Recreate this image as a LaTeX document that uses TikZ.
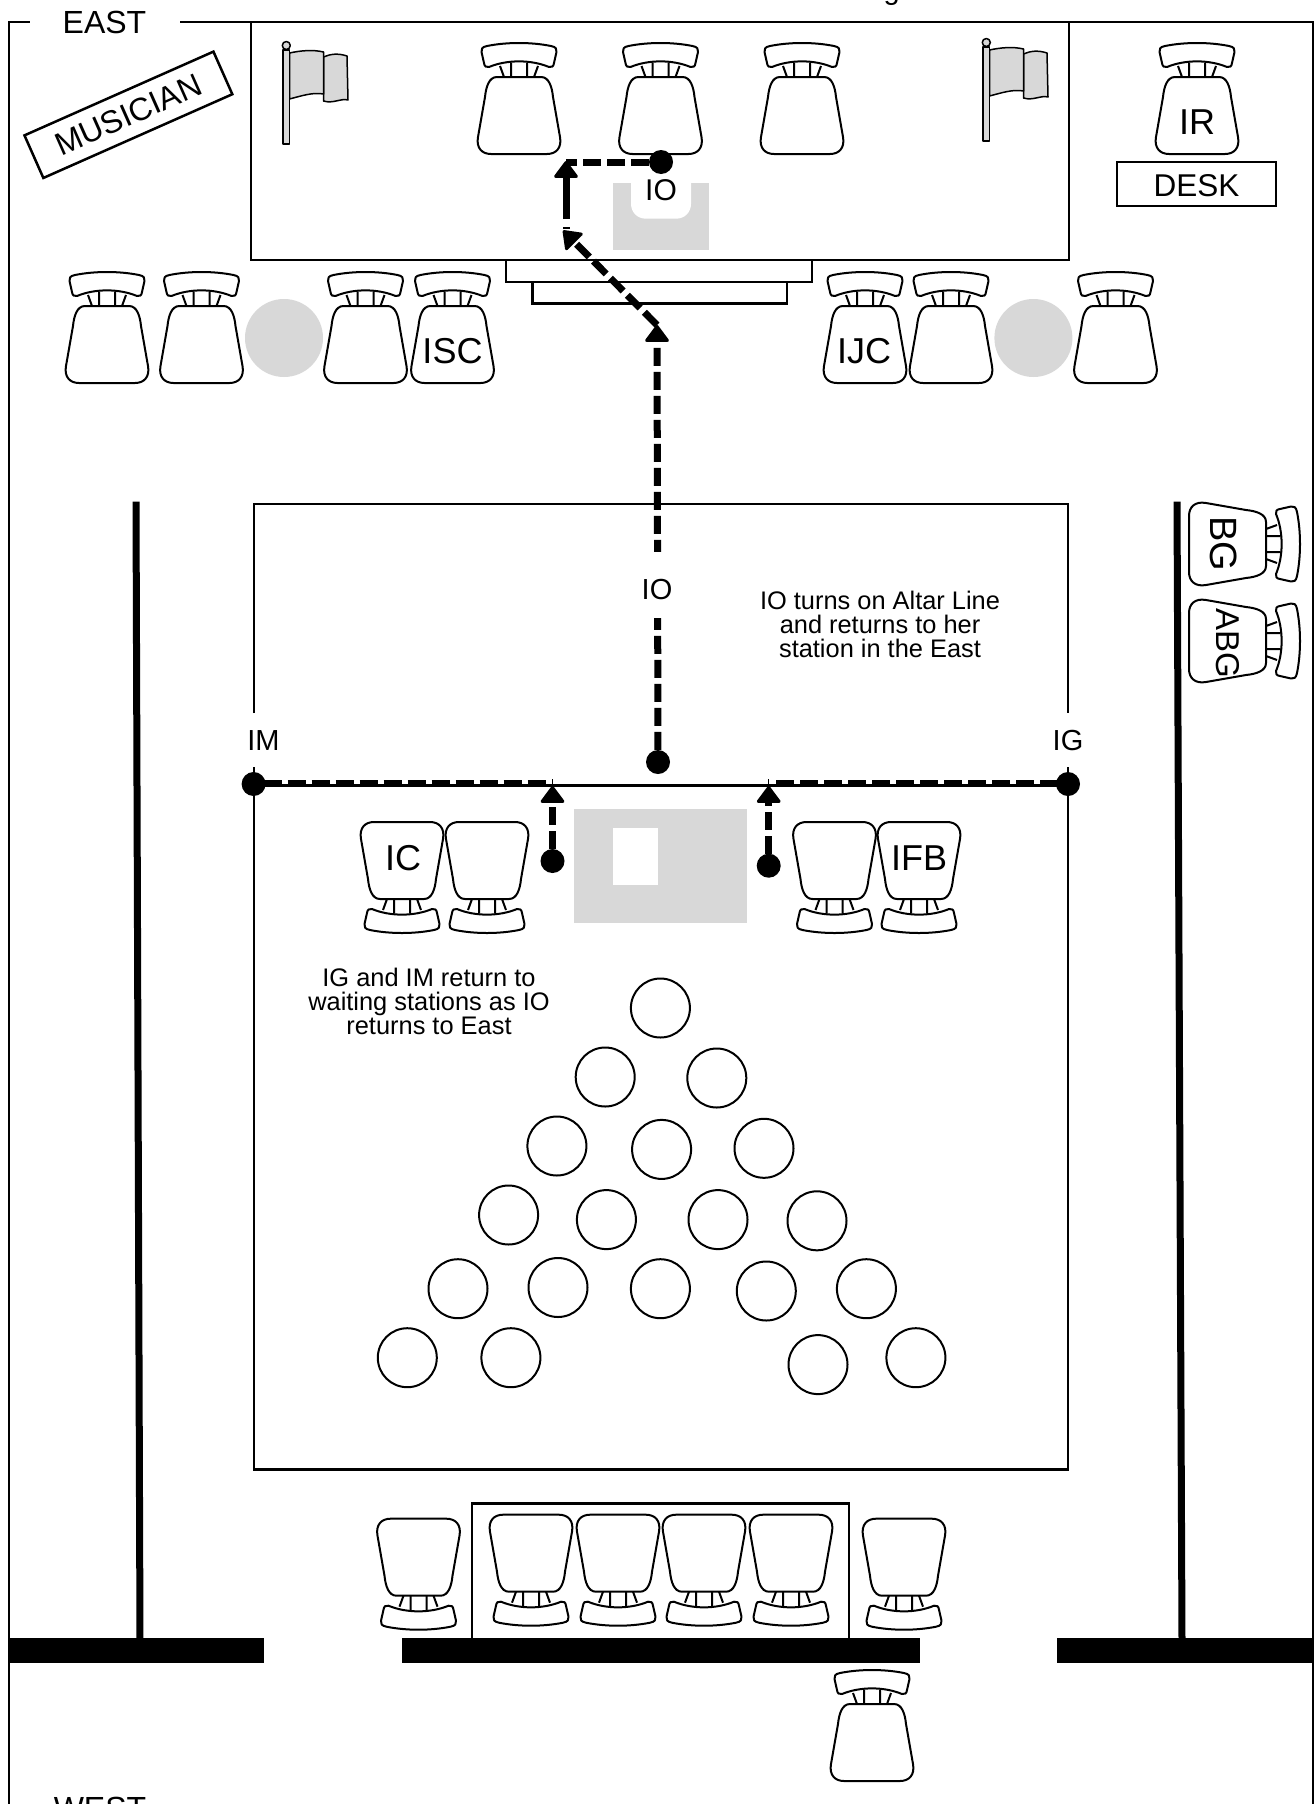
\documentclass[tikz,border=0pt]{standalone}
\usepackage{fontspec}
\setmainfont{Liberation Sans}
\usetikzlibrary{arrows.meta}
\definecolor{pale}{HTML}{D8D8D8}
\newcommand{\fsz}[1]{\fontsize{#1}{#1}\selectfont}
\tikzset{
  seatpic/.pic={
    \begin{scope}[line width=2pt,draw=black,fill=white,line join=round]
    \filldraw (-32,4) .. controls (-12,0) and (12,0) .. (32,4) .. controls (37,5) and (38,7) .. (37.5,10) -- (35,21)
      .. controls (34.5,24.5) and (33,25.5) .. (30,25) .. controls (12,17.5) and (-12,17.5) .. (-30,25)
      .. controls (-33,25.5) and (-34.5,24.5) .. (-35,21) -- (-37.5,10) .. controls (-38,7) and (-37,5) .. (-32,4) -- cycle;
    \draw (-19,24) -- (-15,35) (-8,20.5) -- (-8,35) (8,20.5) -- (8,35) (19,24) -- (15,35);
    \filldraw (-22,35) -- (22,35) .. controls (30,35) and (33,45) .. (34,55) -- (41,95)
      .. controls (43,106) and (37,112) .. (28,112) -- (-28,112) .. controls (-37,112) and (-43,106) .. (-41,95)
      -- (-34,55) .. controls (-33,45) and (-30,35) .. (-22,35) -- cycle;
    \end{scope}
  },
  flagpic/.pic={
    \begin{scope}[line width=1.5pt,draw=black,fill=pale,line join=round]
    \filldraw (40.5,16) .. controls (47,13) and (55,12) .. (64,15) -- (65,59) .. controls (58,57) and (50,63) .. (40.5,60) -- cycle;
    \filldraw (6.5,12) .. controls (18,9.5) and (30,8.5) .. (40.5,11) -- (40.5,53) .. controls (30,51) and (18,55) .. (6.5,58) -- cycle;
    \filldraw (0,9) rectangle (6.5,103);
    \filldraw (3.3,4.5) circle[radius=4];
    \end{scope}
  },
  frameline/.style={line width=2.5pt,draw=black},
  spot/.style={circle,fill=black,inner sep=0pt,minimum size=24pt},
  crowd/.style={circle,draw=black,fill=white,line width=2pt,inner sep=0pt,minimum size=59pt},
  grayspot/.style={circle,fill=pale,inner sep=0pt,minimum size=78pt},
  route/.style={line width=7pt,draw=black,dash pattern=on 18pt off 6pt},
  routetip/.style={route,-{Triangle[width=26pt,length=18pt,line width=3pt,round]}},
  chairlbl/.style={anchor=base,font=\fsz{36}},
  smalllbl/.style={anchor=base,font=\fsz{29}},
  note/.style={align=center,font=\fontsize{25.4}{24}\selectfont,inner sep=0pt}
}
\begin{document}
\begin{tikzpicture}[x=1pt,y=-1pt]
\useasboundingbox (0,0) rectangle (1314,1804);
\clip (0,0) rectangle (1314,1804);
\fill[white] (0,0) rectangle (1314,1804);
% outer frame
\draw[frameline] (29.5,22) -- (9,22) -- (9,1810);
\draw[frameline] (180,22) -- (1313,22) -- (1313,1810);
\node[anchor=base,font=\fsz{32}] (east) at (104.5,33) {EAST};
\node[anchor=base,font=\fsz{32}] (west) at (100,1819.5) {WEST};
\node[anchor=base,font=\fsz{29}] (clipg) at (891.7,-1) {g};
% platform
\draw[frameline] (251,22) rectangle (1069,260);
\draw[frameline] (506,260) rectangle (812,282);
\draw[frameline] (532.5,282) rectangle (787,303.7);
% lectern
\fill[pale] (613,182.7) rectangle (709,250);
\fill[white] (631,182) -- (631,203.7) .. controls (631,212) and (637,218.7) .. (646,218.7) -- (676,218.7) .. controls (685,218.7) and (691,212) .. (691,203.7) -- (691,182) -- cycle;
% musician, desk
\node[draw=black,line width=2.5pt,fill=white,rotate=23.9,minimum width=206.7pt,minimum height=46.6pt,inner sep=0pt,font=\fsz{32}] (musician) at (128.4,114.8) {MUSICIAN};
\node[draw=black,line width=2.5pt,minimum width=159pt,minimum height=44pt,inner sep=0pt] (desk) at (1196.4,184) {};
\node[anchor=base,font=\fsz{31.5}] (desktext) at (1196.4,196) {DESK};
% flags
\pic at (283,41) {flagpic};
\pic at (983,38) {flagpic};
% top chairs
\pic at (519,42) {seatpic};
\pic at (660.5,42) {seatpic};
\pic at (802,42) {seatpic};
\pic at (1197,42) {seatpic};
% second row
\pic at (107,271) {seatpic};
\pic at (201.5,271) {seatpic};
\pic at (365.5,271) {seatpic};
\pic at (452.5,271) {seatpic};
\pic at (865,271) {seatpic};
\pic at (951,271) {seatpic};
\pic at (1115.5,271) {seatpic};
\node[grayspot] (g1) at (284,338) {};
\node[grayspot] (g2) at (1033.4,338) {};
\node[chairlbl] (isc) at (452.5,363) {ISC};
\node[chairlbl] (ijc) at (864,363) {IJC};
\node[chairlbl] (ir) at (1197,134) {IR};
% room
\draw[frameline,line join=miter] (254,713) -- (254,504) -- (1068,504) -- (1068,713);
\draw[frameline,line join=miter] (254,767) -- (254,1469.5) -- (1068,1469.5) -- (1068,767);
\node[smalllbl] (imlbl) at (263.5,750) {IM};
\node[smalllbl] (iglbl) at (1068,750) {IG};
% walls
\draw[line width=7pt] (136,501.7) -- (140,1640);
\draw[line width=7pt] (1177,501.7) -- (1182,1640);
\fill[black] (7.5,1638) rectangle (264,1662.7);
\fill[black] (402,1638) rectangle (919.5,1662.7);
\fill[black] (1057,1638) rectangle (1316,1662.7);
% side chairs
\pic[rotate=-90] at (1301,544) {seatpic};
\pic[rotate=-90] at (1301,641) {seatpic};
\node[rotate=-90,font=\fsz{38},inner sep=0pt] (bg) at (1224,544) {BG};
\node[rotate=-90,font=\fsz{33},inner sep=0pt] (abg) at (1228,643) {ABG};
% altar
\fill[pale] (574,809) rectangle (747,922.7);
\fill[white] (613,828) rectangle (658,885);
\pic[rotate=180] at (402,934) {seatpic};
\pic[rotate=180] at (487,934) {seatpic};
\pic[rotate=180] at (834.5,934) {seatpic};
\pic[rotate=180] at (919,934) {seatpic};
\node[chairlbl] (ic) at (403,870) {IC};
\node[chairlbl] (ifb) at (919,870) {IFB};
% notes
\node[note] (note1) at (880,624.5) {IO turns on Altar Line\\and returns to her\\station in the East};
\node[note] (note2) at (429,1001.5) {IG and IM return to\\waiting stations as IO\\returns to East};
% crowd
\foreach \n/\cx/\cy in {a/660.4/1008,b/605.2/1077,c/716.8/1078,d/556.9/1146,e/661.6/1149.4,f/764/1148.3,g/508.6/1215,h/606.4/1219.6,i/718/1219.6,j/817/1220.8,k/458/1288.7,l/558/1287.5,m/660.4/1288.7,n/766.3/1291,o/866.4/1288.7,p/407.3/1357.7,q/510.9/1357.7,r/818/1364.6,s/915.9/1357.7}
  \node[crowd] (c\n) at (\cx,\cy) {};
% rear
\draw[frameline] (472,1638) -- (472,1503.3) -- (849,1503.3) -- (849,1638);
\pic[rotate=180] at (418.5,1630.7) {seatpic};
\pic[rotate=180] at (904,1630.7) {seatpic};
\pic[rotate=180] at (531,1626.7) {seatpic};
\pic[rotate=180] at (618,1626.7) {seatpic};
\pic[rotate=180] at (704,1626.7) {seatpic};
\pic[rotate=180] at (791,1626.7) {seatpic};
\pic at (872,1669) {seatpic};
% altar line
\node[spot] (dotim) at (253.6,784) {};
\node[spot] (dotig) at (1068,784) {};
\coordinate (linel) at (254,785.5);
\coordinate (liner) at (1068,785.5);
\draw[line width=2.5pt] (linel) -- (liner);
\coordinate (imd) at (254,782.5);
\coordinate (imdend) at (545.7,782.5);
\coordinate (igd) at (776,782.5);
\coordinate (igdend) at (1060,782.5);
\draw[line width=6pt,dash pattern=on 18pt off 6pt,dash phase=14.3pt] (imd) -- (imdend);
\draw[line width=6pt,dash pattern=on 18pt off 6pt] (igd) -- (igdend);
% routes
\node[spot] (dotio) at (661,162) {};
\node[spot] (dotalt) at (658,762) {};
\node[spot] (dotl) at (552.5,861) {};
\node[spot] (dotr) at (768.7,865.7) {};
\coordinate (corner) at (566,162);
\coordinate (tipup) at (566,161);
\coordinate (tailup) at (566,229);
\coordinate (tipdiag) at (563,230.5);
\coordinate (bend) at (657,325);
\coordinate (tipmain) at (657,325);
\coordinate (tipl) at (552.5,786);
\coordinate (tipr) at (768.7,786);
\coordinate (tickl) at (552.5,779);
\coordinate (tickr) at (768.7,779);
\draw[route] (dotio) -- (corner);
\draw[routetip,dash pattern=on 2pt off 8pt on 60pt off 0pt] (tailup) -- (tipup);
\draw[routetip] (bend) -- (tipdiag);
\draw[routetip] (dotalt) -- (tipmain);
\draw[routetip] (dotl) -- (tipl);
\draw[routetip] (dotr) -- (tipr);
\draw[line width=1.5pt] (tickl) -- (tipl);
\draw[line width=1.5pt] (tickr) -- (tipr);
\node[fill=white,inner sep=0pt,minimum width=40pt,minimum height=66pt] (iomidbg) at (657,585) {};
\node[smalllbl] (iomid) at (657,599) {IO};
\node[anchor=base,font=\fsz{30}] (iotop) at (661,200) {IO};
\end{tikzpicture}
\end{document}
